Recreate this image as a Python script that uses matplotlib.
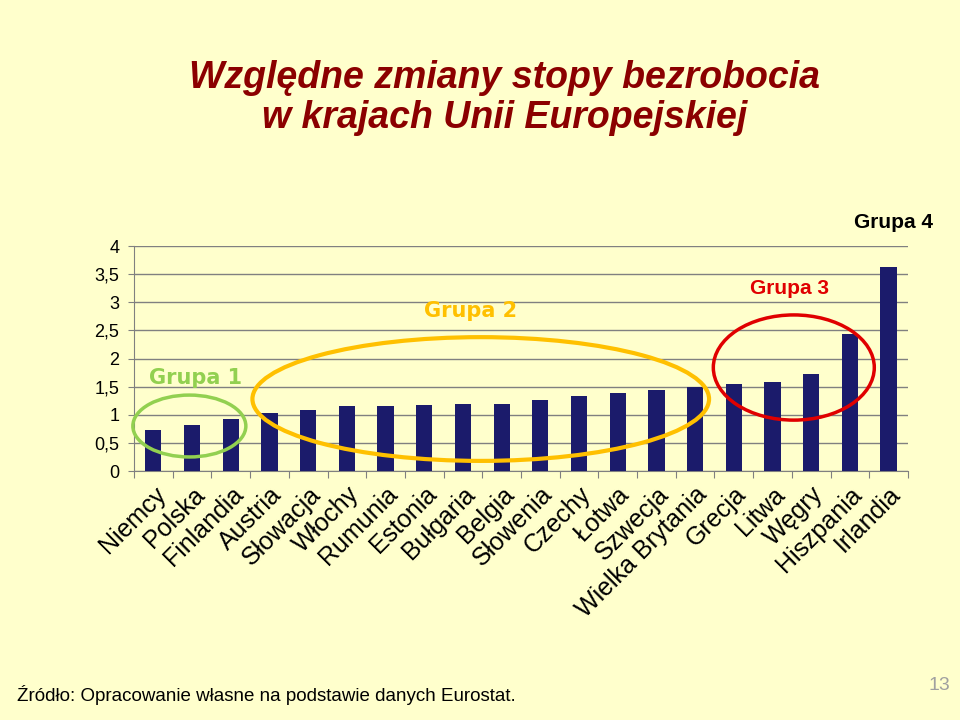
import matplotlib
matplotlib.use("Agg")
import matplotlib.pyplot as plt
from matplotlib.patches import Ellipse

countries = ["Niemcy", "Polska", "Finlandia", "Austria", "Słowacja", "Włochy",
             "Rumunia", "Estonia", "Bułgaria", "Belgia", "Słowenia", "Czechy",
             "Łotwa", "Szwecja", "Wielka Brytania", "Grecja", "Litwa", "Węgry",
             "Hiszpania", "Irlandia"]
values = [0.73, 0.82, 0.92, 1.03, 1.08, 1.16, 1.16, 1.17, 1.19, 1.19,
          1.26, 1.33, 1.39, 1.44, 1.49, 1.55, 1.58, 1.72, 2.43, 3.63]
yticks = [0, 0.5, 1, 1.5, 2, 2.5, 3, 3.5, 4]
ytick_labels = ["0", "0,5", "1", "1,5", "2", "2,5", "3", "3,5", "4"]

bg = "#FFFFCC"
plt.rcParams['font.family'] = ['Liberation Sans', 'DejaVu Sans']

fig = plt.figure(figsize=(9.6, 7.2), dpi=100, facecolor=bg)
ax = fig.add_axes([0.1396, 0.3458, 0.8062, 0.3125])
ax.set_facecolor(bg)

x = list(range(len(countries)))
ax.bar(x, values, width=0.42, color="#1B1B6B", zorder=3)
ax.set_xlim(-0.5, len(countries) - 0.5)
ax.set_ylim(0, 4)
ax.set_yticks(yticks)
ax.set_yticklabels(ytick_labels, fontsize=13)
ax.yaxis.grid(True, color="#808080", linewidth=1, zorder=0)
ax.set_xticks([i - 0.5 for i in range(len(countries) + 1)], minor=False)
ax.set_xticklabels([])
ax.set_xticks(x, minor=True)
ax.set_xticklabels(countries, minor=True, rotation=45, ha="right",
                   rotation_mode="anchor", fontsize=18)
ax.tick_params(axis="x", which="minor", length=0, pad=8)
ax.tick_params(axis="x", which="major", length=5, color="#808080", direction="out")
ax.tick_params(axis="y", length=4.5, color="#808080", direction="out", pad=6)
for s in ["top", "right"]:
    ax.spines[s].set_visible(False)
ax.spines["left"].set_color("#808080")
ax.spines["bottom"].set_color("#808080")

# group ellipses (data coordinates)
ax.add_patch(Ellipse((0.93, 0.80), 2.92, 1.10, fill=False, edgecolor="#92D050",
                     linewidth=2.5, zorder=4, clip_on=False))
ax.add_patch(Ellipse((8.46, 1.28), 11.8, 2.20, fill=False, edgecolor="#FFC000",
                     linewidth=3, zorder=4, clip_on=False))
ax.add_patch(Ellipse((16.55, 1.84), 4.16, 1.87, fill=False, edgecolor="#E00000",
                     linewidth=2.5, zorder=4, clip_on=False))

fig.text(196/960, 1 - 378/720, "Grupa 1", color="#92D050", fontsize=15,
         fontweight="bold", family="DejaVu Sans", ha="center", va="center")
fig.text(471/960, 1 - 311/720, "Grupa 2", color="#FFC000", fontsize=15,
         fontweight="bold", family="DejaVu Sans", ha="center", va="center")
fig.text(789/960, 1 - 288/720, "Grupa 3", color="#E00000", fontsize=15,
         fontweight="bold", ha="center", va="center")
fig.text(893/960, 1 - 222/720, "Grupa 4", color="black", fontsize=15,
         fontweight="bold", ha="center", va="center")

fig.text(505/960, 1 - 98/720, "Względne zmiany stopy bezrobocia\nw krajach Unii Europejskiej",
         color="#8B0000", fontsize=27, fontweight="bold", fontstyle="italic",
         ha="center", va="center", linespacing=1.15)

fig.text(17/960, 1 - 695/720, "Źródło: Opracowanie własne na podstawie danych Eurostat.",
         fontsize=13.5, ha="left", va="center")
fig.text(939/960, 1 - 686/720, "13", fontsize=14, color="#A0A0A0", ha="center", va="center")

fig.savefig("out.png", dpi=100, facecolor=bg)
